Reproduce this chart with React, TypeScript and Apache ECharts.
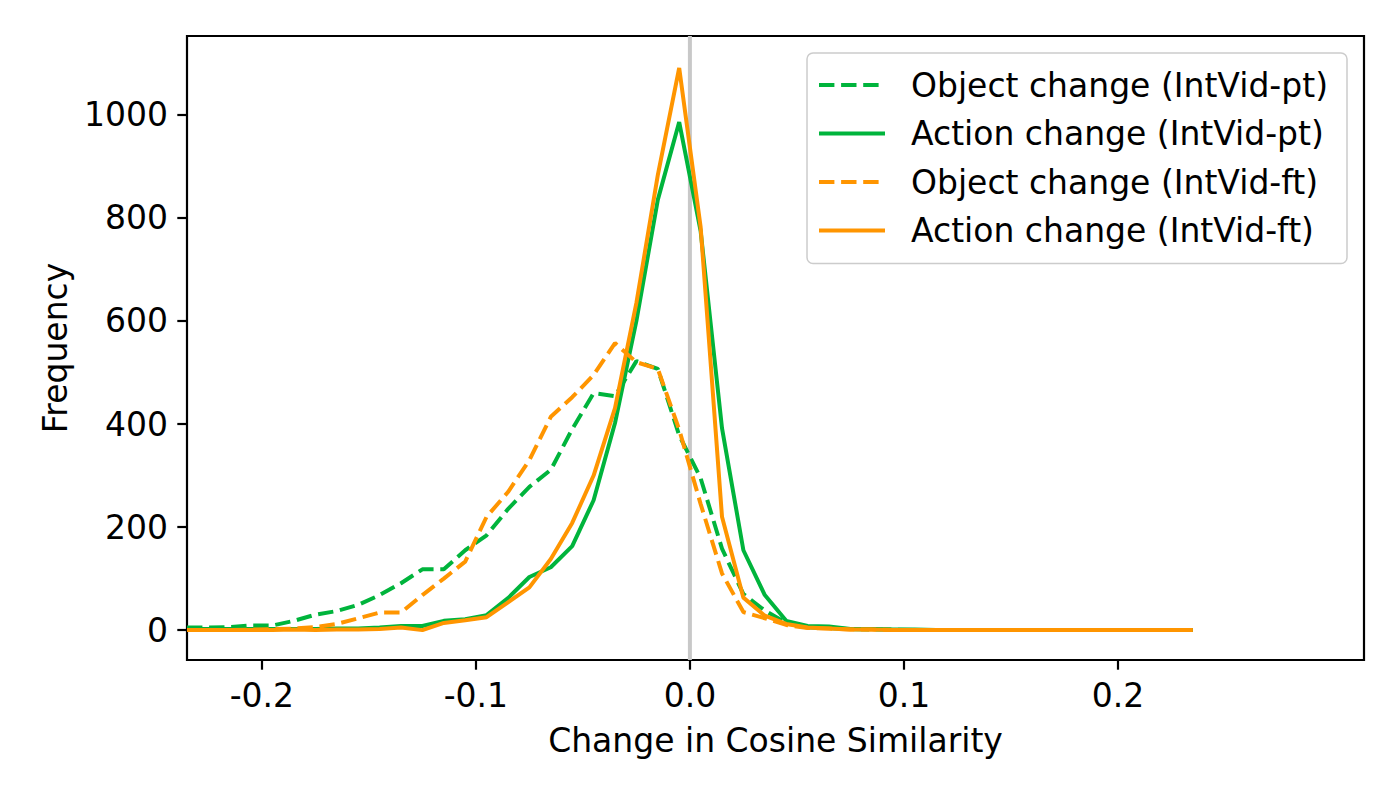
import React, { useEffect, useRef } from "react";
import * as echarts from "echarts";

const binCenters = [
  -0.235, -0.225, -0.215, -0.205, -0.195, -0.185, -0.175, -0.165, -0.155, -0.145,
  -0.135, -0.125, -0.115, -0.105, -0.095, -0.085, -0.075, -0.065, -0.055, -0.045,
  -0.035, -0.025, -0.015, -0.005, 0.005, 0.015, 0.025, 0.035, 0.045, 0.055,
  0.065, 0.075, 0.085, 0.095, 0.105, 0.115, 0.125, 0.135, 0.145, 0.155,
  0.165, 0.175, 0.185, 0.195, 0.205, 0.215, 0.225, 0.235,
];

const objectPt = [
  5, 5, 6, 9, 9, 18, 30, 37, 49, 68,
  91, 118, 118, 155, 184, 235, 278, 311, 390, 460,
  454, 522, 507, 378, 295, 158, 70, 38, 14, 5,
  4, 2, 1, 1, 0, 0, 0, 0, 0, 0,
  0, 0, 0, 0, 0, 0, 0, 0,
];

const actionPt = [
  2, 2, 2, 2, 2, 2, 2, 3, 3, 5,
  8, 8, 18, 21, 29, 62, 103, 122, 163, 252,
  402, 600, 835, 986, 775, 392, 155, 68, 18, 8,
  7, 2, 2, 1, 1, 0, 0, 0, 0, 0,
  0, 0, 0, 0, 0, 0, 0, 0,
];

const objectFt = [
  0, 0, 0, 1, 2, 3, 6, 12, 23, 34,
  34, 68, 100, 133, 220, 268, 330, 414, 452, 495,
  557, 520, 507, 389, 245, 110, 35, 23, 10, 4,
  3, 1, 1, 0, 0, 0, 0, 0, 0, 0,
  0, 0, 0, 0, 0, 0, 0, 0,
];

const actionFt = [
  0, 0, 0, 0, 0, 1, 0, 1, 1, 2,
  5, 0, 14, 19, 25, 54, 83, 138, 208, 300,
  431, 635, 883, 1091, 783, 220, 63, 28, 12, 5,
  3, 1, 1, 0, 0, 0, 0, 0, 0, 0,
  0, 0, 0, 0, 0, 0, 0, 0,
];

const seriesNames = [
  "Object change (IntVid-pt)",
  "Action change (IntVid-pt)",
  "Object change (IntVid-ft)",
  "Action change (IntVid-ft)",
];

const xTicks = [-0.2, -0.1, 0, 0.1, 0.2];
const yTicks = [0, 200, 400, 600, 800, 1000];

const GREEN = "#00b43c";
const ORANGE = "#ff9500";
const FONT = "DejaVu Sans";

export default function App() {
  const ref = useRef<HTMLDivElement>(null);

  useEffect(() => {
    if (!ref.current) return;
    const chart = echarts.init(ref.current, undefined, { renderer: "svg" });
    const pair = (ys: number[]) => binCenters.map((x, i) => [x, ys[i]]);
    const dash = [15.4, 6.7];
    const mk = (name: string, ys: number[], color: string, dashed: boolean) => ({
      name,
      type: "line",
      data: pair(ys),
      symbol: "none",
      showSymbol: false,
      z: 3,
      lineStyle: { color, width: 4, type: dashed ? dash : "solid" },
      itemStyle: { color },
      emphasis: { disabled: true },
    });
    const yMin = -58;
    const yMax = 1153;
    chart.setOption({
      animation: false,
      textStyle: { fontFamily: FONT },
      grid: {
        left: 187,
        top: 36,
        right: 36,
        bottom: 140,
        show: true,
        borderColor: "#000",
        borderWidth: 2.2,
        backgroundColor: "transparent",
        containLabel: false,
      },
      legend: {
        data: seriesNames,
        orient: "vertical",
        right: 53,
        top: 53,
        padding: [14, 19, 15, 10],
        itemWidth: 66,
        itemHeight: 36,
        itemGap: 12.5,
        backgroundColor: "rgba(255,255,255,0.8)",
        borderColor: "#cccccc",
        borderWidth: 1.5,
        borderRadius: 6,
        lineStyle: { width: 4 },
        itemStyle: { opacity: 0 },
        textStyle: {
          fontFamily: FONT,
          fontSize: 33,
          color: "#000",
          lineHeight: 36,
          padding: [0, 0, 0, 21],
        },
        selectedMode: false,
      },
      xAxis: {
        type: "value",
        min: -0.235,
        max: 0.315,
        name: "Change in Cosine Similarity",
        nameLocation: "middle",
        nameGap: 64,
        nameTextStyle: { fontFamily: FONT, fontSize: 33, color: "#000" },
        axisLine: { show: false, onZero: false },
        axisTick: {
          show: true,
          length: 9.7,
          inside: false,
          customValues: xTicks,
          lineStyle: { color: "#000", width: 2.2 },
        },
        axisLabel: {
          customValues: xTicks,
          formatter: (v: number) => v.toFixed(1),
          fontFamily: FONT,
          fontSize: 33,
          color: "#000",
          margin: 19,
        },
        splitLine: { show: false },
      },
      yAxis: {
        type: "value",
        min: yMin,
        max: yMax,
        name: "Frequency",
        nameLocation: "middle",
        nameGap: 115,
        nameRotate: 90,
        nameTextStyle: { fontFamily: FONT, fontSize: 33, color: "#000" },
        axisLine: { show: false, onZero: false },
        axisTick: {
          show: true,
          length: 9.7,
          inside: false,
          customValues: yTicks,
          lineStyle: { color: "#000", width: 2.2 },
        },
        axisLabel: {
          customValues: yTicks,
          formatter: (v: number) => String(v),
          fontFamily: FONT,
          fontSize: 33,
          color: "#000",
          margin: 19,
        },
        splitLine: { show: false },
      },
      series: [
        {
          name: "zero-line",
          type: "line",
          data: [
            [0, yMin],
            [0, yMax],
          ],
          symbol: "none",
          z: 1,
          lineStyle: { color: "#c8c8c8", width: 4 },
          emphasis: { disabled: true },
          silent: true,
        },
        mk(seriesNames[0], objectPt, GREEN, true),
        mk(seriesNames[1], actionPt, GREEN, false),
        mk(seriesNames[2], objectFt, ORANGE, true),
        mk(seriesNames[3], actionFt, ORANGE, false),
      ],
    });
    return () => chart.dispose();
  }, []);

  return (
    <div
      ref={ref}
      style={{ position: "absolute", left: 0, top: 0, width: 1400, height: 800, background: "#fff" }}
    />
  );
}
